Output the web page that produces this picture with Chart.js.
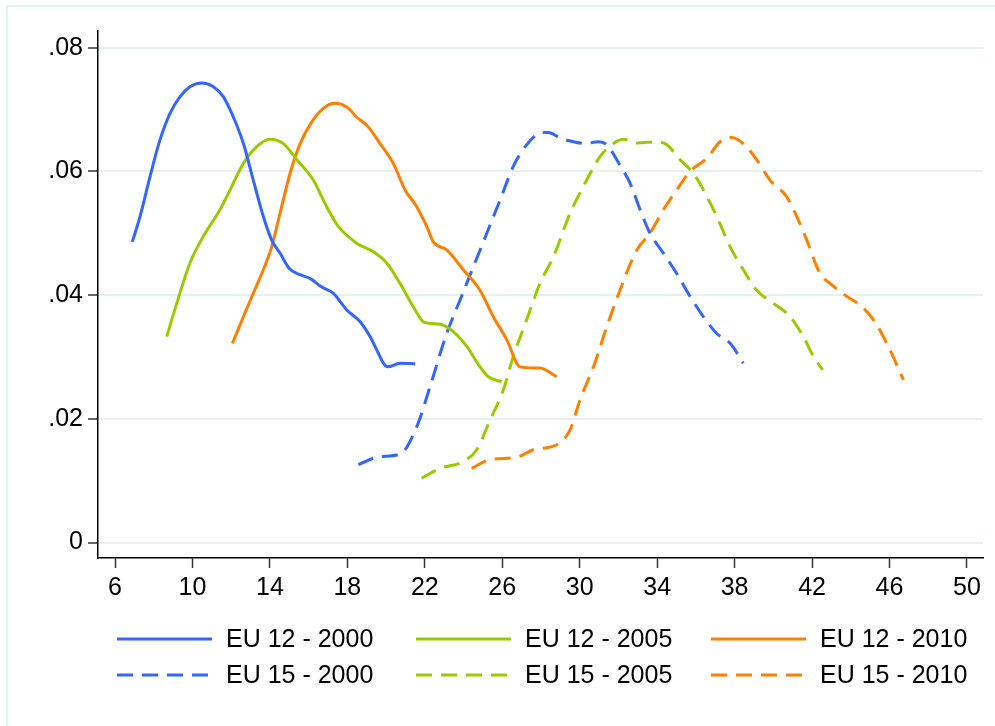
<!DOCTYPE html>
<html>
<head>
<meta charset="utf-8">
<script src="https://cdn.jsdelivr.net/npm/chart.js@4/dist/chart.umd.min.js"></script>
<style>
  html, body { margin: 0; padding: 0; background: #fff; }
  #wrap { width: 995px; height: 726px; position: relative; }
</style>
</head>
<body>
<div id="wrap"><canvas id="c" width="995" height="726"></canvas></div>
<script>
// Kernel density curves of age, by group and year
const eu12_2000_x = [6.89, 7.29, 7.81, 8.32, 8.84, 9.36, 9.87, 10.48, 11.08, 11.59, 12.11, 12.63, 13.14, 13.66, 14.09, 14.52, 15.0, 15.56, 16.07, 16.68, 17.28, 17.97, 18.66, 19.17, 19.6, 19.86, 20.08, 20.72, 21.5];
const eu12_2000_y = [0.0486, 0.0527, 0.0592, 0.0651, 0.0694, 0.0721, 0.0737, 0.0743, 0.0737, 0.0721, 0.0688, 0.0645, 0.0586, 0.0527, 0.0489, 0.0468, 0.0443, 0.0433, 0.0427, 0.0413, 0.0403, 0.0376, 0.0357, 0.0333, 0.0306, 0.0290, 0.0284, 0.0290, 0.0289];

const eu12_2005_x = [8.67, 9.19, 9.87, 10.56, 11.42, 11.94, 12.63, 13.32, 14.0, 14.69, 15.39, 16.24, 16.93, 17.53, 18.48, 19.34, 20.03, 20.72, 21.41, 21.98, 22.79, 23.47, 24.17, 24.85, 25.28, 25.97];
const eu12_2005_y = [0.0333, 0.0387, 0.0452, 0.0495, 0.0538, 0.0570, 0.0613, 0.0640, 0.0652, 0.0645, 0.0619, 0.0586, 0.0543, 0.0511, 0.0484, 0.0470, 0.0452, 0.0419, 0.0381, 0.0356, 0.0353, 0.0341, 0.0317, 0.0284, 0.0268, 0.0260];

const eu12_2010_x = [12.06, 12.63, 13.14, 13.66, 14.09, 14.52, 15.04, 15.56, 16.16, 16.76, 17.36, 17.97, 18.48, 19.08, 19.69, 20.37, 20.98, 21.58, 22.1, 22.44, 23.13, 23.99, 24.85, 25.54, 26.23, 26.92, 27.95, 28.81];
const eu12_2010_y = [0.0322, 0.0365, 0.0403, 0.0441, 0.0478, 0.0532, 0.0597, 0.0645, 0.0680, 0.0702, 0.0710, 0.0704, 0.0688, 0.0672, 0.0645, 0.0613, 0.0570, 0.0543, 0.0511, 0.0486, 0.0473, 0.0441, 0.0408, 0.0365, 0.0328, 0.0284, 0.0282, 0.0268];

const eu15_2000_x = [18.57, 19.69, 20.72, 21.58, 22.27, 23.13, 23.82, 24.51, 25.2, 25.89, 26.57, 27.26, 27.95, 28.38, 28.99, 29.67, 30.28, 30.96, 31.4, 32.08, 32.6, 33.12, 33.63, 34.32, 35.01, 35.7, 36.39, 37.08, 37.77, 38.45];
const eu15_2000_y = [0.0126, 0.0139, 0.0143, 0.0187, 0.0252, 0.0338, 0.0392, 0.0446, 0.0500, 0.0554, 0.0608, 0.0643, 0.0662, 0.0663, 0.0654, 0.0648, 0.0645, 0.0648, 0.0643, 0.0610, 0.0581, 0.0538, 0.0500, 0.0468, 0.0435, 0.0398, 0.0365, 0.0338, 0.0322, 0.0290];

const eu15_2005_x = [21.84, 22.79, 23.99, 24.68, 25.37, 26.06, 26.57, 27.26, 27.95, 28.64, 29.5, 30.36, 31.05, 31.74, 32.26, 32.95, 33.98, 34.5, 35.18, 35.87, 36.39, 37.08, 37.77, 38.45, 39.14, 40.0, 40.87, 41.55, 42.07, 42.55];
const eu15_2005_y = [0.0104, 0.0120, 0.0131, 0.0150, 0.0198, 0.0247, 0.0301, 0.0360, 0.0419, 0.0462, 0.0532, 0.0586, 0.0624, 0.0645, 0.0652, 0.0646, 0.0648, 0.0643, 0.0619, 0.0597, 0.0570, 0.0527, 0.0478, 0.0441, 0.0408, 0.0387, 0.0365, 0.0333, 0.0301, 0.0279];

const eu15_2010_x = [24.42, 25.37, 26.75, 27.61, 28.81, 29.5, 30.02, 30.71, 31.4, 32.08, 32.95, 33.63, 34.32, 35.01, 35.7, 36.56, 37.25, 37.85, 38.45, 39.14, 39.83, 40.69, 41.21, 41.73, 42.41, 42.93, 43.79, 44.48, 45.17, 45.86, 46.72];
const eu15_2010_y = [0.0120, 0.0134, 0.0138, 0.0150, 0.0158, 0.0182, 0.0231, 0.0284, 0.0349, 0.0408, 0.0473, 0.0500, 0.0538, 0.0570, 0.0600, 0.0621, 0.0648, 0.0655, 0.0645, 0.0619, 0.0586, 0.0559, 0.0527, 0.0489, 0.0435, 0.0419, 0.0398, 0.0384, 0.0360, 0.0322, 0.0263];

const seriesLabels = ['EU 12 - 2000', 'EU 12 - 2005', 'EU 12 - 2010', 'EU 15 - 2000', 'EU 15 - 2005', 'EU 15 - 2010'];
const xTicks = [6, 10, 14, 18, 22, 26, 30, 34, 38, 42, 46, 50];
const yTicks = [0, 0.02, 0.04, 0.06, 0.08];
const yTickLabels = ['0', '.02', '.04', '.06', '.08'];

const BLUE = '#3366ff', GREEN = '#99cc00', ORANGE = '#ff8000';
const DASH = [16, 9];
const FONT = '"Liberation Sans", Arial, Helvetica, sans-serif';
const FONT_SIZE = 25;

function pts(xs, ys) { return xs.map((x, i) => ({ x: x, y: ys[i] })); }

function ds(label, xs, ys, color, dashed) {
  return {
    label: label,
    data: pts(xs, ys),
    borderColor: color,
    backgroundColor: color,
    borderWidth: 3,
    borderDash: dashed ? DASH : [],
    borderCapStyle: 'butt',
    pointRadius: 0,
    fill: false,
    cubicInterpolationMode: 'monotone'
  };
}

const datasets = [
  ds(seriesLabels[0], eu12_2000_x, eu12_2000_y, BLUE, false),
  ds(seriesLabels[1], eu12_2005_x, eu12_2005_y, GREEN, false),
  ds(seriesLabels[2], eu12_2010_x, eu12_2010_y, ORANGE, false),
  ds(seriesLabels[3], eu15_2000_x, eu15_2000_y, BLUE, true),
  ds(seriesLabels[4], eu15_2005_x, eu15_2005_y, GREEN, true),
  ds(seriesLabels[5], eu15_2010_x, eu15_2010_y, ORANGE, true)
];

// White page with a faint outer frame
const framePlugin = {
  id: 'frame',
  beforeDraw(chart) {
    const ctx = chart.ctx;
    ctx.save();
    ctx.fillStyle = '#fff';
    ctx.fillRect(0, 0, chart.width, chart.height);
    ctx.strokeStyle = '#e8f0f2';
    ctx.lineWidth = 2;
    ctx.strokeRect(7, 6, chart.width + 20, chart.height + 20);
    ctx.restore();
  }
};

// Three-column legend below the plot
const legendPlugin = {
  id: 'gridLegend',
  afterDraw(chart) {
    const ctx = chart.ctx;
    const cols = [117, 416, 711];
    const rows = [639, 675];
    const lineLen = 95;
    ctx.save();
    ctx.font = FONT_SIZE + 'px ' + FONT;
    ctx.textBaseline = 'middle';
    ctx.fillStyle = '#000';
    chart.data.datasets.forEach((d, i) => {
      const cx = cols[i % 3];
      const cy = rows[Math.floor(i / 3)];
      ctx.beginPath();
      ctx.strokeStyle = d.borderColor;
      ctx.lineWidth = 3;
      ctx.lineCap = 'butt';
      ctx.setLineDash(d.borderDash || []);
      ctx.moveTo(cx, cy);
      ctx.lineTo(cx + lineLen, cy);
      ctx.stroke();
      ctx.setLineDash([]);
      ctx.fillText(d.label, cx + 109, cy + 1);
    });
    ctx.restore();
  }
};

new Chart(document.getElementById('c'), {
  type: 'line',
  data: { datasets: datasets },
  plugins: [framePlugin, legendPlugin],
  options: {
    responsive: false,
    animation: false,
    devicePixelRatio: 1,
    layout: { padding: { left: 0, top: 31, right: 12, bottom: 128 } },
    plugins: { legend: { display: false }, tooltip: { enabled: false } },
    scales: {
      x: {
        type: 'linear',
        min: 5.12,
        max: 50.83,
        afterBuildTicks(scale) { scale.ticks = xTicks.map(v => ({ value: v })); },
        afterFit(scale) { scale.height = 40; },
        grid: { drawOnChartArea: false, drawTicks: true, tickLength: 10, tickColor: '#333', tickWidth: 1.5 },
        border: { display: true, color: '#000', width: 1.5 },
        ticks: { color: '#000', font: { family: FONT, size: FONT_SIZE }, padding: 5, maxRotation: 0, autoSkip: false }
      },
      y: {
        type: 'linear',
        min: -0.0025,
        max: 0.0827,
        afterBuildTicks(scale) { scale.ticks = yTicks.map(v => ({ value: v })); },
        afterFit(scale) { scale.width = 98; },
        grid: { color: '#e8f0f2', lineWidth: 2, drawTicks: true, tickLength: 10, tickColor: '#333', tickWidth: 1.5 },
        border: { display: true, color: '#000', width: 1.5 },
        ticks: {
          color: '#000', font: { family: FONT, size: FONT_SIZE }, padding: 5, autoSkip: false,
          callback: (v) => { const k = yTicks.indexOf(v); return k >= 0 ? yTickLabels[k] : ''; }
        }
      }
    }
  }
});
</script>
</body>
</html>
